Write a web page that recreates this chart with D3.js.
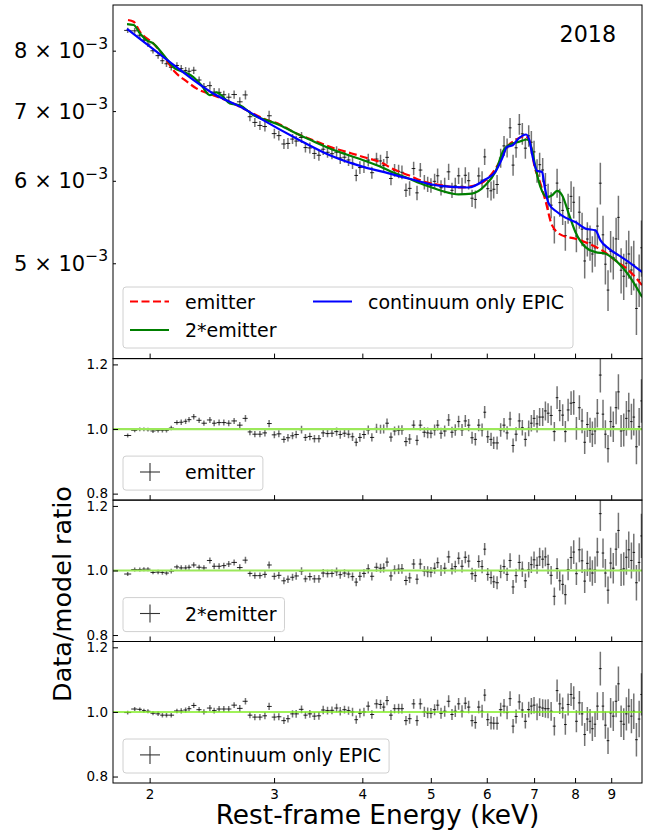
<!DOCTYPE html>
<html>
<head>
<meta charset="utf-8">
<script src="https://cdn.jsdelivr.net/npm/d3@7"></script>
<style>
body { margin: 0; background: #fff; }
text { font-family: "DejaVu Sans", sans-serif; fill: #000; }
</style>
</head>
<body>
<div id="plot"></div>
<script>
// ---- data ----
// bin centres (keV)
const energy = [1.862,1.905,1.937,1.963,1.989,2.022,2.056,2.085,2.113,2.146,
  2.186,2.217,2.249,2.274,2.309,2.350,2.387,2.434,2.468,2.508,
  2.547,2.588,2.634,2.683,2.733,2.773,2.818,2.865,2.912,2.952,
  3.003,3.047,3.098,3.139,3.186,3.224,3.281,3.323,3.371,3.422,
  3.472,3.521,3.571,3.623,3.678,3.722,3.774,3.824,3.874,3.921,
  3.968,4.021,4.078,4.126,4.189,4.244,4.288,
  4.335,4.391,4.443,4.502,4.551,4.611,4.666,4.728,4.780,4.832,4.896,4.949,5.002,
  5.062,5.112,5.169,5.231,5.299,5.357,5.415,5.474,5.535,5.595,5.656,5.719,5.781,5.844,5.909,
  5.959,6.018,6.084,6.137,6.205,6.278,6.347,6.411,6.473,6.537,6.601,6.672,6.737,6.804,6.878,6.938,6.999,
  7.068,7.128,7.199,7.263,7.327,7.400,7.478,7.545,7.610,7.684,7.751,7.821,7.897,7.965,8.035,
  8.114,8.185,8.255,8.327,8.400,8.464,8.538,8.603,8.687,8.763,8.831,8.907,8.983,9.061,9.145,
  9.214,9.295,9.375,9.457,9.530,9.613,9.687,9.771,9.858,9.933];

// data/model ratios
const ratioEmitter = [0.980,0.996,0.999,0.999,0.998,0.994,0.996,0.996,0.996,1.003,
  1.020,1.021,1.024,1.029,1.038,1.027,1.018,1.028,1.018,1.020,
  1.020,1.018,1.025,1.012,1.033,0.991,0.984,0.984,0.988,1.017,
  0.982,0.985,0.968,0.973,0.979,0.983,0.998,0.974,0.977,0.970,
  0.970,0.988,0.986,0.987,0.992,0.983,0.987,0.984,0.976,0.959,
  0.974,0.983,0.997,0.974,1.002,0.999,1.000,
  1.018,0.975,0.994,0.996,0.997,0.961,0.969,1.012,0.965,1.012,0.990,0.988,0.987,
  0.997,1.012,0.987,0.994,1.028,0.990,0.997,1.023,0.997,1.025,1.012,0.973,0.968,1.012,0.997,
  1.052,0.976,0.968,0.957,0.957,0.997,1.012,0.988,1.031,0.949,0.984,1.025,1.004,0.968,1.002,1.018,1.033,
  1.016,1.037,1.037,1.056,1.049,1.042,0.992,1.097,1.057,1.043,0.992,1.059,1.080,1.082,1.002,
  1.066,1.025,0.959,1.014,0.996,0.984,0.994,1.049,1.167,1.046,0.984,0.939,1.023,1.007,1.066,
  1.115,0.994,0.997,1.033,1.056,1.023,1.037,0.945,1.007,1.087];

const ratio2Emitter = [0.989,1.003,1.003,1.004,1.004,0.994,0.995,0.994,0.992,0.998,
  1.011,1.008,1.008,1.010,1.017,1.010,1.008,1.031,1.013,1.013,
  1.015,1.020,1.025,1.009,1.032,0.991,0.984,0.984,0.988,1.017,
  0.982,0.985,0.968,0.973,0.979,0.983,0.998,0.974,0.981,0.974,
  0.974,0.992,0.990,0.991,0.996,0.987,0.992,0.989,0.981,0.964,
  0.982,0.991,1.005,0.982,1.010,1.007,1.008,
  1.026,0.983,1.002,1.004,1.005,0.969,0.977,1.020,0.973,1.020,0.998,0.996,0.995,
  1.007,1.024,1.000,1.007,1.042,1.005,1.012,1.038,1.013,1.041,1.029,0.990,0.984,1.028,1.012,
  1.066,0.988,0.978,0.965,0.962,0.997,1.012,0.988,1.031,0.949,0.984,1.025,1.004,0.968,1.002,1.018,1.033,
  1.016,1.042,1.035,1.042,1.019,0.985,0.920,1.006,0.968,0.957,0.925,1.003,1.040,1.057,0.990,
  1.064,1.030,0.967,1.022,1.004,0.992,1.002,1.057,1.176,1.054,0.992,0.939,1.023,1.007,1.066,
  1.124,1.002,1.005,1.041,1.064,1.031,1.056,0.962,1.025,1.107];

const ratioContinuum = [0.998,1.009,1.008,1.004,1.002,0.996,0.994,0.990,0.990,0.990,
  1.003,1.003,1.006,1.010,1.020,1.007,1.000,1.012,1.004,1.009,
  1.009,1.009,1.021,1.011,1.033,0.990,0.984,0.984,0.988,1.017,
  0.984,0.985,0.973,0.979,0.994,0.994,1.008,0.990,0.994,0.987,
  0.988,1.006,1.004,1.005,1.012,1.002,1.007,1.004,1.000,0.976,
  0.996,1.000,1.018,0.992,1.025,1.023,1.015,
  1.035,0.990,1.010,1.010,1.010,0.973,0.979,1.025,0.973,1.025,1.000,0.997,0.996,
  1.007,1.021,0.996,1.002,1.033,0.992,1.002,1.025,1.002,1.027,1.015,0.973,0.967,1.015,1.002,
  1.052,0.976,0.966,0.965,0.965,1.007,1.018,0.998,1.041,0.956,0.986,1.031,1.006,0.971,1.007,1.018,1.021,
  1.000,1.015,1.012,1.010,1.010,1.002,0.956,1.066,1.025,1.012,0.961,1.023,1.054,1.043,0.971,
  1.028,0.994,0.930,0.978,0.971,0.948,0.962,1.018,1.134,1.018,0.959,0.911,0.997,0.987,1.033,
  1.087,0.971,0.962,0.994,1.018,0.987,1.002,0.914,0.978,1.054];

// fractional 1-sigma errors
const relErr = [0.006,0.006,0.006,0.006,0.006,0.006,0.007,0.007,0.007,0.007,0.007,
  0.008,0.008,0.008,0.008,0.008,0.008,0.009,0.009,0.009,0.009,0.009,0.009,0.010,0.010,
  0.010,0.010,0.010,0.011,0.011,0.011,0.011,0.011,0.012,0.011,0.012,0.012,0.011,0.012,0.012,0.012,
  0.013,0.012,0.012,0.013,0.013,0.012,0.013,0.013,0.013,0.014,0.013,0.014,0.013,0.014,0.014,0.014,
  0.014,0.015,0.014,0.015,0.015,0.015,0.016,0.015,0.016,0.016,0.016,0.017,0.016,
  0.017,0.016,0.017,0.017,0.018,0.017,0.018,0.018,0.019,0.018,0.019,0.019,0.020,0.019,0.020,
  0.018,0.020,0.021,0.020,0.021,0.021,0.022,0.021,0.022,0.023,0.022,0.023,0.024,0.023,0.024,0.025,0.025,
  0.026,0.027,0.027,0.028,0.029,0.029,0.030,0.032,0.031,0.032,0.033,0.033,0.034,0.035,0.035,
  0.036,0.037,0.038,0.038,0.039,0.040,0.041,0.042,0.046,0.043,0.044,0.045,0.046,0.047,0.048,
  0.049,0.050,0.051,0.052,0.053,0.054,0.055,0.057,0.058,0.062];

// model curves (keV, flux in 1e-3 units)
const continuumE = [1.858,2.090,2.460,2.742,2.896,3.227,3.598,4.012,4.282,4.651,
  5.186,5.654,5.971,6.169,6.306,6.410,6.528,6.657,6.819,6.893,
  6.968,7.068,7.185,7.246,7.341,7.545,7.752,8.009,8.275,8.550,
  8.691,8.929,9.226,9.531,9.958];
const continuumF = [8.393,7.893,7.278,7.015,6.861,6.588,6.349,6.187,6.119,6.030,
  5.929,5.912,6.017,6.119,6.302,6.467,6.491,6.588,6.647,6.564,
  6.325,6.133,6.119,5.920,5.705,5.600,5.531,5.477,5.398,5.377,
  5.260,5.164,5.088,5.013,4.903];

const emitterE = [1.864,1.899,1.937,2.023,2.090,2.171,2.254,2.329,2.460,2.597,
  2.742,2.896,3.058,3.227,3.408,3.598,3.799,4.012,4.282,4.406,
  4.651,4.911,5.186,5.473,5.779,6.036,6.236,6.410,6.585,6.804,
  6.915,7.013,7.122,7.262,7.423,7.669,8.009,8.365,8.739,9.127,
  9.531,9.958];
const emitterF = [8.561,8.529,8.343,8.131,7.922,7.635,7.479,7.360,7.251,7.144,
  7.015,6.887,6.796,6.661,6.564,6.467,6.396,6.325,6.233,6.165,
  6.074,5.984,5.941,5.912,5.941,6.044,6.233,6.467,6.564,6.623,
  6.516,6.187,6.007,5.747,5.437,5.318,5.279,5.221,5.144,5.032,
  4.922,4.761];

const twoEmitterE = [1.858,1.899,1.937,1.979,2.023,2.090,2.171,2.230,2.304,2.367,
  2.433,2.486,2.541,2.597,2.683,2.802,2.926,3.058,3.227,3.408,
  3.598,3.799,4.012,4.282,4.406,4.651,4.911,5.186,5.473,5.718,
  5.971,6.169,6.339,6.443,6.657,6.842,6.955,7.030,7.146,7.303,
  7.423,7.545,7.669,7.836,8.009,8.275,8.550,8.832,9.127,9.531,
  9.958];
const twoEmitterF = [8.485,8.467,8.313,8.190,8.131,7.935,7.692,7.635,7.551,7.414,
  7.251,7.295,7.224,7.119,7.092,6.938,6.861,6.785,6.661,6.549,
  6.444,6.359,6.279,6.173,6.119,6.030,5.941,5.867,5.824,5.833,
  5.941,6.119,6.420,6.491,6.539,6.574,6.420,6.187,5.920,5.789,
  5.811,5.867,5.811,5.581,5.358,5.182,5.125,5.107,5.032,4.868,
  4.639];

const xTicks = [2, 3, 4, 5, 6, 7, 8, 9];
const mainTicks = [5, 6, 7, 8];
const ratioTicks = [0.8, 1.0, 1.2];

// ---- layout ----
const W = 649, H = 831;
const left = 113, right = 642;
const mainTop = 5, mainBottom = 358.6;
const ratioPanels = [
  {top: 358.6, bottom: 500.1, values: ratioEmitter, label: 'emitter', line: '#9be85a', lw: 2.2},
  {top: 500.1, bottom: 641.5, values: ratio2Emitter, label: '2*emitter', line: '#9be85a', lw: 2.2},
  {top: 641.5, bottom: 783, values: ratioContinuum, label: 'continuum only EPIC', line: '#80ee22', lw: 1.5}
];

const svg = d3.select('#plot').append('svg')
  .attr('width', W).attr('height', H);

const x = d3.scaleLog().domain([1.775, 9.95]).range([left, right]);
const yMain = d3.scaleLog().domain([4.05, 8.85]).range([mainBottom, mainTop]);

// log-log interpolation in a model curve
function modelAt(e, xs, ys) {
  const lx = Math.log(e);
  let i = d3.bisectLeft(xs, e);
  i = Math.max(1, Math.min(xs.length - 1, i));
  const x0 = Math.log(xs[i-1]), x1 = Math.log(xs[i]);
  const t = (lx - x0) / (x1 - x0);
  return Math.exp(Math.log(ys[i-1]) + t * (Math.log(ys[i]) - Math.log(ys[i-1])));
}

// bin edges halfway (in log) between neighbours
const binLo = energy.map((e, i) => i === 0 ? e * e / Math.sqrt(e * energy[1]) : Math.sqrt(e * energy[i-1]));
const binHi = energy.map((e, i) => i === energy.length - 1 ? e * e / Math.sqrt(e * energy[i-1]) : Math.sqrt(e * energy[i+1]));

// spectrum = ratio to the continuum model times that model
const flux = energy.map((e, i) => ratioContinuum[i] * modelAt(e, continuumE, continuumF));

function drawPoints(g, yScale, values) {
  const pts = energy.map((e, i) => ({e: e, v: values[i], err: relErr[i], lo: binLo[i], hi: binHi[i]}));
  g.selectAll('.ev').data(pts).join('line').attr('class', 'ev')
    .attr('x1', d => x(d.e)).attr('x2', d => x(d.e))
    .attr('y1', d => yScale(d.v * (1 - d.err))).attr('y2', d => yScale(d.v * (1 + d.err)))
    .attr('stroke', '#000').attr('stroke-opacity', 0.55).attr('stroke-width', 1.5);
  g.selectAll('.eh').data(pts).join('line').attr('class', 'eh')
    .attr('x1', d => x(d.lo)).attr('x2', d => x(d.hi))
    .attr('y1', d => yScale(d.v)).attr('y2', d => yScale(d.v))
    .attr('stroke', '#000').attr('stroke-opacity', 0.85).attr('stroke-width', 1);
}

function xAxis(top, bottom, labels) {
  const ax = svg.append('g')
    .attr('transform', `translate(0,${bottom})`)
    .call(d3.axisBottom(x).tickValues(xTicks).tickSizeInner(-5).tickSizeOuter(0)
      .tickPadding(6).tickFormat(labels ? d3.format('d') : ''));
  ax.select('.domain').remove();
  ax.selectAll('line').attr('stroke', '#000');
  ax.selectAll('text').style('font-size', '13.5px').attr('font-family', null);
}

function frame(top, bottom) {
  svg.append('rect')
    .attr('x', left).attr('y', top)
    .attr('width', right - left).attr('height', bottom - top)
    .attr('fill', 'none').attr('stroke', '#000').attr('stroke-width', 1);
}

// ---- main panel ----
svg.append('clipPath').attr('id', 'clipMain').append('rect')
  .attr('x', left).attr('y', mainTop).attr('width', right - left).attr('height', mainBottom - mainTop);

const mainG = svg.append('g').attr('clip-path', 'url(#clipMain)');
drawPoints(mainG.append('g'), yMain, flux);

const line = d3.line().x(d => x(d[0])).y(d => yMain(d[1])).curve(d3.curveMonotoneX);
mainG.append('path').datum(d3.zip(emitterE, emitterF)).attr('d', line)
  .attr('fill', 'none').attr('stroke', '#ff0000').attr('stroke-width', 2.2).attr('stroke-dasharray', '8,3.5');
mainG.append('path').datum(d3.zip(twoEmitterE, twoEmitterF)).attr('d', line)
  .attr('fill', 'none').attr('stroke', '#007f00').attr('stroke-width', 2.2);
mainG.append('path').datum(d3.zip(continuumE, continuumF)).attr('d', line)
  .attr('fill', 'none').attr('stroke', '#0000ff').attr('stroke-width', 2.2);

xAxis(mainTop, mainBottom, false);

const yAx = svg.append('g').attr('transform', `translate(${left},0)`)
  .call(d3.axisLeft(yMain).tickValues(mainTicks).tickSizeInner(-3).tickSizeOuter(0).tickFormat(''));
yAx.select('.domain').remove();
yAx.selectAll('line').attr('stroke', '#000');

mainTicks.forEach(v => {
  const t = svg.append('text')
    .attr('x', 108).attr('y', yMain(v) + 7.5)
    .attr('text-anchor', 'end')
    .style('font-size', '21px');
  t.append('tspan').text(`${v} \u00d7 10`);
  t.append('tspan').attr('dy', -9.5).style('font-size', '15.5px').text('\u22123');
});

frame(mainTop, mainBottom);

svg.append('text').attr('x', 616).attr('y', 42)
  .attr('text-anchor', 'end').style('font-size', '22.2px').text('2018');

// main legend
const lg = svg.append('g');
lg.append('rect').attr('x', 123).attr('y', 287).attr('width', 450).attr('height', 61)
  .attr('rx', 3).attr('fill', '#fff').attr('fill-opacity', 0.8)
  .attr('stroke', '#d0d0d0').attr('stroke-width', 1);
const legendItems = [
  {x: 130, y: 301.5, color: '#ff0000', dash: '8,3.5', label: 'emitter'},
  {x: 130, y: 330, color: '#007f00', dash: null, label: '2*emitter'},
  {x: 313, y: 301.5, color: '#0000ff', dash: null, label: 'continuum only EPIC'}
];
legendItems.forEach(d => {
  lg.append('line').attr('x1', d.x).attr('x2', d.x + 39).attr('y1', d.y).attr('y2', d.y)
    .attr('stroke', d.color).attr('stroke-width', 2.2).attr('stroke-dasharray', d.dash);
  lg.append('text').attr('x', d.x + 55).attr('y', d.y + 7).style('font-size', '19px').text(d.label);
});

// ---- ratio panels ----
ratioPanels.forEach((p, k) => {
  const y = d3.scaleLinear().domain([0.78, 1.218]).range([p.bottom, p.top]);
  const id = 'clipR' + k;
  svg.append('clipPath').attr('id', id).append('rect')
    .attr('x', left).attr('y', p.top).attr('width', right - left).attr('height', p.bottom - p.top);
  const g = svg.append('g').attr('clip-path', `url(#${id})`);
  drawPoints(g.append('g'), y, p.values);
  g.append('line').attr('x1', left).attr('x2', right)
    .attr('y1', y(1)).attr('y2', y(1))
    .attr('stroke', p.line).attr('stroke-width', p.lw);

  const ay = svg.append('g').attr('transform', `translate(${left},0)`)
    .call(d3.axisLeft(y).tickValues(ratioTicks).tickSizeInner(-5).tickSizeOuter(0)
      .tickPadding(5).tickFormat(d3.format('.1f')));
  ay.select('.domain').remove();
  ay.selectAll('line').attr('stroke', '#000');
  ay.selectAll('text').style('font-size', '13.5px').attr('font-family', null);

  xAxis(p.top, p.bottom, k === 2);
  frame(p.top, p.bottom);

  // legend with the errorbar handle
  const cy = p.top + 113.4;
  const lgr = svg.append('g');
  const box = lgr.append('rect').attr('x', 123).attr('y', p.top + 97.5).attr('height', 34)
    .attr('rx', 3).attr('fill', '#fff').attr('fill-opacity', 0.8)
    .attr('stroke', '#d0d0d0').attr('stroke-width', 1);
  lgr.append('line').attr('x1', 150).attr('x2', 150).attr('y1', cy - 9).attr('y2', cy + 9)
    .attr('stroke', '#333').attr('stroke-width', 1.1);
  lgr.append('line').attr('x1', 140).attr('x2', 160).attr('y1', cy).attr('y2', cy)
    .attr('stroke', '#333').attr('stroke-width', 1.1);
  const txt = lgr.append('text').attr('x', 185).attr('y', cy + 7).style('font-size', '19px').text(p.label);
  box.attr('width', 185 - 123 + txt.node().getComputedTextLength() + 8);
});

// axis titles
svg.append('text').attr('x', (left + right) / 2).attr('y', 824)
  .attr('text-anchor', 'middle').style('font-size', '26.4px').text('Rest-frame Energy (keV)');
svg.append('text').attr('transform', 'translate(71,594) rotate(-90)')
  .attr('text-anchor', 'middle').style('font-size', '25.5px').text('Data/model ratio');
</script>
</body>
</html>
